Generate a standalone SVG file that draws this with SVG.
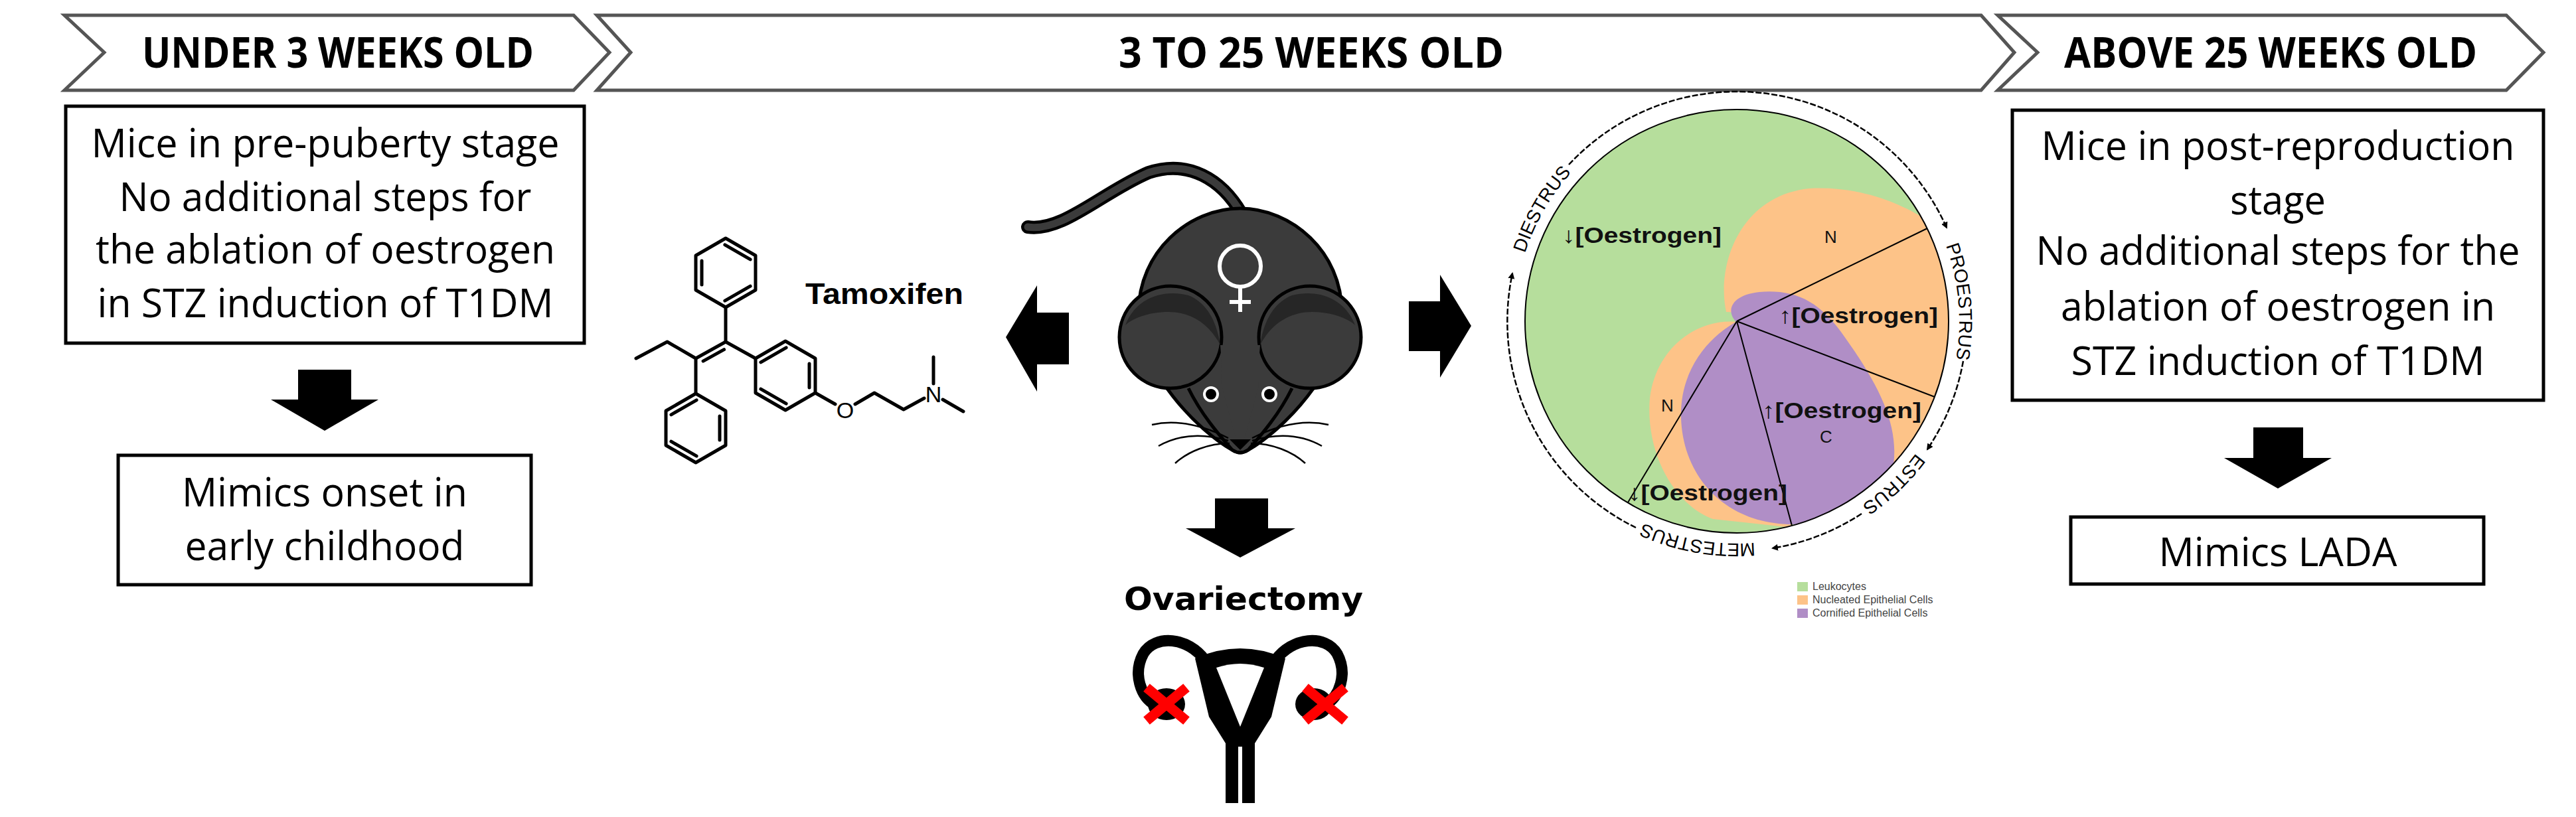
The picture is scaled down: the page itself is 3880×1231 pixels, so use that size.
<svg xmlns="http://www.w3.org/2000/svg" width="3880" height="1231" viewBox="0 0 3880 1231">
<style>
.chev{fill:#fff;stroke:#555;stroke-width:5}
.hdr{font-family:"Open Sans","Liberation Sans",sans-serif;font-weight:bold;font-size:64px;fill:#000;text-anchor:middle}
.box{fill:#fff;stroke:#000;stroke-width:5}
.bt{font-family:"Open Sans","Liberation Sans",sans-serif;font-size:60px;fill:#000;text-anchor:middle}
.blk{fill:#000}
.chem{stroke:#000;stroke-width:5;fill:none;stroke-linecap:round;stroke-linejoin:round}
.cl{font-family:"Liberation Sans","DejaVu Sans",sans-serif;font-weight:bold;font-size:34px;fill:#111}
.cs{font-family:"Liberation Sans",sans-serif;font-size:26px;fill:#111}
.ring{fill:none;stroke:#000;stroke-width:2.5;stroke-dasharray:9 3}
.stg{font-family:"Liberation Sans",sans-serif;font-size:28px;fill:#000}
.leg{font-family:"Liberation Sans",sans-serif;font-size:16px;fill:#444}
.mb{fill:#3b3b3b;stroke:#000;stroke-width:5}
</style>
<defs>
<clipPath id="cc"><circle cx="2616" cy="484" r="319"/></clipPath>
<marker id="ah" markerWidth="10" markerHeight="10" refX="8" refY="5" orient="auto" markerUnits="userSpaceOnUse"><path d="M0,0 L10,5 L0,10 Z" fill="#000"/></marker>
<path id="tp" d="M2281,484 A335,335 0 1 1 2951,484 A335,335 0 1 1 2281,484"/>
</defs>

<g id="headers">
<polygon class="chev" points="97,23 864,23 918,79 864,136 97,136 157,79"/>
<text class="hdr" x="509" y="102" textLength="590" lengthAdjust="spacingAndGlyphs">UNDER 3 WEEKS OLD</text>
<polygon class="chev" points="899,23 2984,23 3034,79 2984,136 899,136 950,79"/>
<text class="hdr" x="1975" y="102" textLength="580" lengthAdjust="spacingAndGlyphs">3 TO 25 WEEKS OLD</text>
<polygon class="chev" points="3009,23 3775,23 3831,79 3775,136 3009,136 3069,79"/>
<text class="hdr" x="3420" y="102" textLength="622" lengthAdjust="spacingAndGlyphs">ABOVE 25 WEEKS OLD</text>
</g>

<g id="box-prepuberty">
<rect class="box" x="99" y="160" width="781" height="357"/>
<text class="bt" x="490" y="237" textLength="705" lengthAdjust="spacingAndGlyphs">Mice in pre-puberty stage</text>
<text class="bt" x="490" y="318" textLength="621" lengthAdjust="spacingAndGlyphs">No additional steps for</text>
<text class="bt" x="490" y="397" textLength="692" lengthAdjust="spacingAndGlyphs">the ablation of oestrogen</text>
<text class="bt" x="490" y="478" textLength="687" lengthAdjust="spacingAndGlyphs">in STZ induction of T1DM</text>
</g>
<g id="box-childhood">
<rect class="box" x="178" y="686" width="622" height="195"/>
<text class="bt" x="489" y="763" textLength="430" lengthAdjust="spacingAndGlyphs">Mimics onset in</text>
<text class="bt" x="489" y="844" textLength="421" lengthAdjust="spacingAndGlyphs">early childhood</text>
</g>
<g id="box-postrepro">
<rect class="box" x="3031" y="166" width="800" height="437"/>
<text class="bt" x="3431" y="241" textLength="713" lengthAdjust="spacingAndGlyphs">Mice in post-reproduction</text>
<text class="bt" x="3431" y="323" textLength="144" lengthAdjust="spacingAndGlyphs">stage</text>
<text class="bt" x="3431" y="399" textLength="729" lengthAdjust="spacingAndGlyphs">No additional steps for the</text>
<text class="bt" x="3431" y="483" textLength="654" lengthAdjust="spacingAndGlyphs">ablation of oestrogen in</text>
<text class="bt" x="3431" y="565" textLength="623" lengthAdjust="spacingAndGlyphs">STZ induction of T1DM</text>
</g>
<g id="box-lada">
<rect class="box" x="3119" y="779" width="622" height="101"/>
<text class="bt" x="3431" y="853" textLength="359" lengthAdjust="spacingAndGlyphs">Mimics LADA</text>
</g>

<g id="connectors">
<polygon class="blk" points="449,557 529,557 529,602 570,602 489,649 408,602 449,602"/>
<polygon class="blk" points="3394,644 3469,644 3469,690 3512,690 3431,736 3350,690 3394,690"/>
<polygon class="blk" points="1610,471 1610,549 1562,549 1562,590 1515,508 1562,430 1562,471"/>
<polygon class="blk" points="2122,454 2169,454 2169,414 2216,491 2169,569 2169,529 2122,529"/>
<polygon class="blk" points="1830,751 1910,751 1910,796 1951,796 1868,840 1786,796 1830,796"/>
</g>

<g id="tamoxifen">
<polygon class="chem" points="1093,359 1138,385 1138,437 1093,463 1048,437 1048,385"/>
<line class="chem" x1="1091.9" y1="368.8" x2="1130.1" y2="390.9"/>
<line class="chem" x1="1057" y1="393" x2="1057" y2="429"/>
<line class="chem" x1="1091.9" y1="453.2" x2="1130.1" y2="431.2"/>
<polygon class="chem" points="1183,514 1228,540 1228,592 1183,618 1138,592 1138,540"/>
<line class="chem" x1="1145.9" y1="545.8" x2="1184.1" y2="523.8"/>
<line class="chem" x1="1219" y1="548" x2="1219" y2="584"/>
<line class="chem" x1="1184.1" y1="608.2" x2="1145.9" y2="586.2"/>
<polygon class="chem" points="1048,593 1093,619 1093,671 1048,697 1003,671 1003,619"/>
<line class="chem" x1="1010.9" y1="624.8" x2="1049.1" y2="602.8"/>
<line class="chem" x1="1084" y1="627" x2="1084" y2="663"/>
<line class="chem" x1="1049.1" y1="687.2" x2="1010.9" y2="665.2"/>
<polyline class="chem" points="1093,463 1093,515 1138,540"/>
<line class="chem" x1="1093" y1="515" x2="1048" y2="540"/>
<line class="chem" x1="1090.6" y1="526.6" x2="1059.1" y2="544.1"/>
<polyline class="chem" points="958,540 1005,515 1048,540 1048,593"/>
<line class="chem" x1="1228" y1="592" x2="1258" y2="609"/>
<text x="1273" y="630" font-family="Liberation Sans,sans-serif" font-size="34" text-anchor="middle">O</text>
<polyline class="chem" points="1288,609 1317,592 1361,617 1392,600"/>
<text x="1406" y="606" font-family="Liberation Sans,sans-serif" font-size="34" text-anchor="middle">N</text>
<line class="chem" x1="1406" y1="578" x2="1406" y2="538"/>
<line class="chem" x1="1420" y1="602" x2="1451" y2="620"/>
<text x="1213" y="458" font-family="Liberation Sans,sans-serif" font-weight="bold" font-size="44" textLength="238" lengthAdjust="spacingAndGlyphs">Tamoxifen</text>
</g>

<g id="mouse">
<path d="M1548,342 C1600,350 1660,290 1730,260 C1790,240 1840,270 1870,322" fill="none" stroke="#000" stroke-width="20" stroke-linecap="round"/>
<path d="M1548,342 C1600,350 1660,290 1730,260 C1790,240 1840,270 1870,322" fill="none" stroke="#3b3b3b" stroke-width="11" stroke-linecap="round"/>
<path class="mb" d="M1715,470 C1715,380 1790,314 1868,314 C1946,314 2021,380 2021,470 C2021,560 1930,650 1880,678 Q1868,686 1856,678 C1806,650 1715,560 1715,470 Z"/>
<circle class="mb" cx="1763" cy="508" r="77"/>
<circle class="mb" cx="1973" cy="508" r="77"/>
<path d="M1695,490 C1710,450 1750,435 1790,445 C1815,455 1832,480 1838,520 C1820,485 1790,470 1760,470 C1730,470 1705,480 1695,490 Z" fill="#262626"/>
<path d="M2041,490 C2026,450 1986,435 1946,445 C1921,455 1904,480 1898,520 C1916,485 1946,470 1976,470 C2006,470 2031,480 2041,490 Z" fill="#262626"/>
<path d="M1838,520 C1840,540 1840,560 1840,580 C1850,620 1860,660 1868,676 C1876,660 1886,620 1896,580 C1896,560 1896,540 1898,520 Z" fill="#3b3b3b"/>
<path d="M1790,585 C1812,630 1845,665 1856,678 Q1868,686 1880,678 C1891,665 1924,630 1946,585" fill="none" stroke="#000" stroke-width="5"/>
<circle cx="1824" cy="594" r="12" fill="#fff"/><circle cx="1824" cy="594" r="8" fill="#000"/>
<circle cx="1912" cy="594" r="12" fill="#fff"/><circle cx="1912" cy="594" r="8" fill="#000"/>
<path d="M1852,662 L1884,662 L1868,678 Z" fill="#000"/>
<g fill="none" stroke="#000" stroke-width="2.5">
<path d="M1850,660 C1810,640 1770,632 1735,640"/>
<path d="M1850,664 C1810,652 1775,655 1745,672"/>
<path d="M1852,668 C1820,668 1790,680 1770,698"/>
<path d="M1886,660 C1926,640 1966,632 2001,640"/>
<path d="M1886,664 C1926,652 1961,655 1991,672"/>
<path d="M1884,668 C1916,668 1946,680 1966,698"/>
</g>
<g fill="none" stroke="#fff" stroke-width="6">
<circle cx="1868" cy="401" r="31"/>
<line x1="1868" y1="432" x2="1868" y2="470"/>
<line x1="1852" y1="455" x2="1884" y2="455"/>
</g>
</g>

<g id="ovariectomy">
<text x="1873" y="919" font-family="DejaVu Sans,sans-serif" font-weight="bold" font-size="48" text-anchor="middle" textLength="360" lengthAdjust="spacingAndGlyphs">Ovariectomy</text>
<g fill="none" stroke="#000" stroke-width="17" stroke-linecap="round">
<path d="M1815,995 C1790,960 1740,955 1722,985 C1706,1015 1718,1050 1740,1062"/>
<path d="M1921,995 C1946,960 1996,955 2014,985 C2030,1015 2018,1050 1996,1062"/>
</g>
<ellipse cx="1757" cy="1061" rx="28" ry="24" fill="#000"/>
<ellipse cx="1979" cy="1061" rx="28" ry="24" fill="#000"/>
<path d="M1800,992 Q1868,962 1936,992 L1915,1080 L1890,1120 L1890,1210 L1846,1210 L1846,1120 L1821,1080 Z" fill="#000"/>
<path d="M1832,1006 Q1868,994 1904,1006 L1868,1095 Z" fill="#fff"/>
<line x1="1868" y1="1125" x2="1868" y2="1212" stroke="#fff" stroke-width="6"/>
<g stroke="#f00" stroke-width="15">
<line x1="1727" y1="1036" x2="1787" y2="1086"/><line x1="1787" y1="1036" x2="1727" y2="1086"/>
<line x1="1966" y1="1036" x2="2026" y2="1086"/><line x1="2026" y1="1036" x2="1966" y2="1086"/>
</g>
</g>

<g id="oestrous-cycle">
<circle cx="2616" cy="484" r="319" fill="#b6de9c"/>
<g clip-path="url(#cc)">
<path d="M2600,470 C2585,400 2620,295 2725,284 C2800,280 2860,305 2900,330 L2960,400 L2960,720 L2840,720 C2800,600 2700,470 2600,470 Z" fill="#fdc388"/>
<path d="M2615,485 C2560,480 2495,520 2485,600 C2478,680 2520,760 2580,782 L2700,795 L2620,560 Z" fill="#fdc388"/>
<path d="M2615,485 C2600,470 2605,445 2650,440 C2700,436 2740,450 2780,510 C2830,580 2860,640 2852,700 C2840,760 2770,790 2700,790 C2600,790 2535,720 2532,630 C2530,560 2570,510 2615,485 Z" fill="#b08ec6"/>
</g>
<circle cx="2616" cy="484" r="319" fill="none" stroke="#000" stroke-width="2"/>
<g stroke="#000" stroke-width="2">
<line x1="2616" y1="484" x2="2903" y2="344"/>
<line x1="2616" y1="484" x2="2914" y2="598"/>
<line x1="2616" y1="484" x2="2699" y2="792"/>
<line x1="2616" y1="484" x2="2452" y2="757"/>
</g>
<text class="cl" x="2353" y="366" textLength="240" lengthAdjust="spacingAndGlyphs">↓[Oestrogen]</text>
<text class="cs" x="2748" y="366">N</text>
<text class="cl" x="2679" y="487" textLength="240" lengthAdjust="spacingAndGlyphs">↑[Oestrogen]</text>
<text class="cs" x="2502" y="620">N</text>
<text class="cl" x="2654" y="630" textLength="240" lengthAdjust="spacingAndGlyphs">↑[Oestrogen]</text>
<text class="cs" x="2741" y="667">C</text>
<text class="cl" x="2452" y="754" textLength="240" lengthAdjust="spacingAndGlyphs">↓[Oestrogen]</text>
<g class="ring" marker-end="url(#ah)">
<path d="M2363,248 A346,346 0 0 1 2932,343"/>
<path d="M2957,544 A346,346 0 0 1 2903,677"/>
<path d="M2804,774 A346,346 0 0 1 2670,826"/>
<path d="M2464,795 A346,346 0 0 1 2278,412"/>
</g>
<text class="stg" text-anchor="middle"><textPath href="#tp" startOffset="8.3%">DIESTRUS</textPath></text>
<text class="stg" text-anchor="middle"><textPath href="#tp" startOffset="48.6%">PROESTRUS</textPath></text>
<text class="stg" text-anchor="middle"><textPath href="#tp" startOffset="62.8%">ESTRUS</textPath></text>
<text class="stg" text-anchor="middle"><textPath href="#tp" startOffset="77.8%">METESTRUS</textPath></text>
<rect x="2707" y="877" width="16" height="14" fill="#b6de9c"/>
<text class="leg" x="2730" y="889">Leukocytes</text>
<rect x="2707" y="897" width="16" height="14" fill="#fdc388"/>
<text class="leg" x="2730" y="909">Nucleated Epithelial Cells</text>
<rect x="2707" y="917" width="16" height="14" fill="#b08ec6"/>
<text class="leg" x="2730" y="929">Cornified Epithelial Cells</text>
</g>
</svg>
